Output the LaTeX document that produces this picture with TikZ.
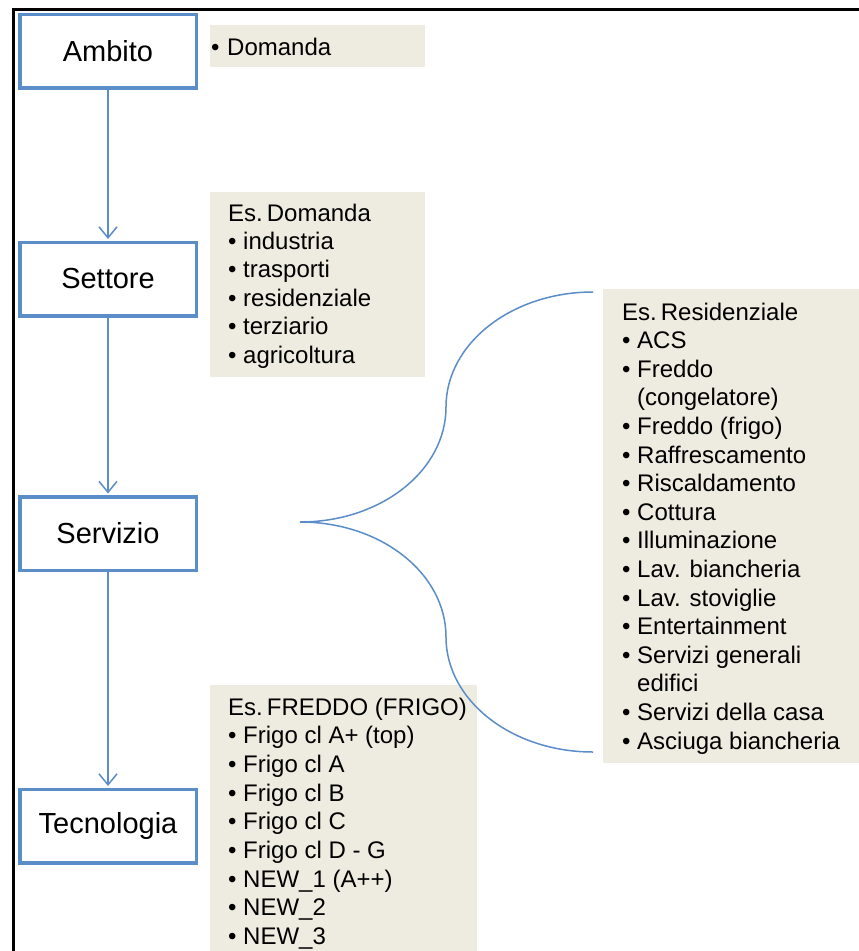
\documentclass[tikz,border=0pt]{standalone}
\usepackage{fontspec}
\setmainfont{Liberation Sans}
\usetikzlibrary{arrows.meta}
\definecolor{bblue}{RGB}{91,142,201}
\definecolor{gfill}{RGB}{238,236,225}
\newcommand{\bul}{\makebox[15pt][l]{•}}
\newcommand{\nob}{\hspace*{15pt}}
\begin{document}
\begin{tikzpicture}[x=1pt,y=-1pt,
 mainbox/.style={draw=bblue, line width=3.5pt, fill=white, minimum width=176.5pt, minimum height=73.5pt, inner sep=0pt, font=\fontsize{29}{34}\selectfont},
 graybox/.style={fill=gfill, draw=none, anchor=north west, inner sep=0pt, outer sep=0pt},
 itm/.style={anchor=base west, inner sep=0pt, font=\fontsize{24}{28}\selectfont},
 conn/.style={draw=bblue, line width=1.5pt, shorten >=1.5pt, -{Straight Barb[length=11pt,width=18pt,line width=1.5pt]}},
 bracestyle/.style={draw=bblue, line width=1.5pt}]
\useasboundingbox (0,0) rectangle (859,951);
\fill[white] (0,0) rectangle (859,951);
\draw[line width=2.5pt] (13.5,951) -- (13.5,9.5) -- (859,9.5);

% gray boxes
\node[graybox, minimum width=215pt, minimum height=42pt] (g1) at (210,25) {};
\node[graybox, minimum width=215pt, minimum height=185pt] (g2) at (210,192) {};
\node[graybox, minimum width=256pt, minimum height=474pt] (g3) at (603,289) {};
\node[graybox, minimum width=267pt, minimum height=266pt] (g4) at (210,685) {};

% main boxes
\node[mainbox] (amb) at (108,51) {Ambito};
\node[mainbox] (set) at (108,279) {Settore};
\node[mainbox] (ser) at (108,533.5) {Servizio};
\node[mainbox] (tec) at (108,826) {Tecnologia};

\draw[conn] (amb) -- (set);
\draw[conn] (set) -- (ser);
\draw[conn] (ser) -- (tec);

% brace
\coordinate (tip) at (300,522);
\coordinate (btop) at (593,292);
\coordinate (bmid1) at (446,407);
\coordinate (bmid2) at (446,637);
\coordinate (bbot) at (593,752);
\draw[bracestyle] (btop) .. controls (511.8,292) and (446,343.5) .. (bmid1)
  .. controls (446,470.5) and (381.2,522) .. (tip)
  .. controls (381.2,522) and (446,573.5) .. (bmid2)
  .. controls (446,700.5) and (511.8,752) .. (bbot);

% texts
\node[itm] (d0) at (211,55) {\makebox[16pt][l]{•}Domanda};

\node[itm] (sh) at (228,221) {Es.\hspace{4pt}Domanda};
\foreach \t [count=\i from 1] in {industria, trasporti, residenziale, terziario, agricoltura}
  \node[itm] (s\i) at (228,{221+28.4*\i}) {\bul\t};

\node[itm] (rh) at (622,320) {Es.\hspace{4pt}Residenziale};
\foreach \t [count=\i from 1] in {{\bul ACS},{\bul Freddo},{\nob (congelatore)},{\bul Freddo (frigo)},{\bul Raffrescamento},{\bul Riscaldamento},{\bul Cottura},{\bul Illuminazione},{\bul Lav. biancheria},{\bul Lav. stoviglie},{\bul Entertainment},{\bul Servizi generali},{\nob edifici},{\bul Servizi della casa},{\bul Asciuga biancheria}}
  \node[itm] (r\i) at (622,{320+28.6*\i}) {\t};

\node[itm] (fh) at (228,715) {Es.\hspace{4pt}FREDDO (FRIGO)};
\foreach \t [count=\i from 1] in {{Frigo cl A+ (top)},{Frigo cl A},{Frigo cl B},{Frigo cl C},{Frigo cl D - G},{NEW\_1 (A++)},{NEW\_2},{NEW\_3}}
  \node[itm] (f\i) at (228,{715+28.7*\i}) {\bul\t};
\end{tikzpicture}
\end{document}
